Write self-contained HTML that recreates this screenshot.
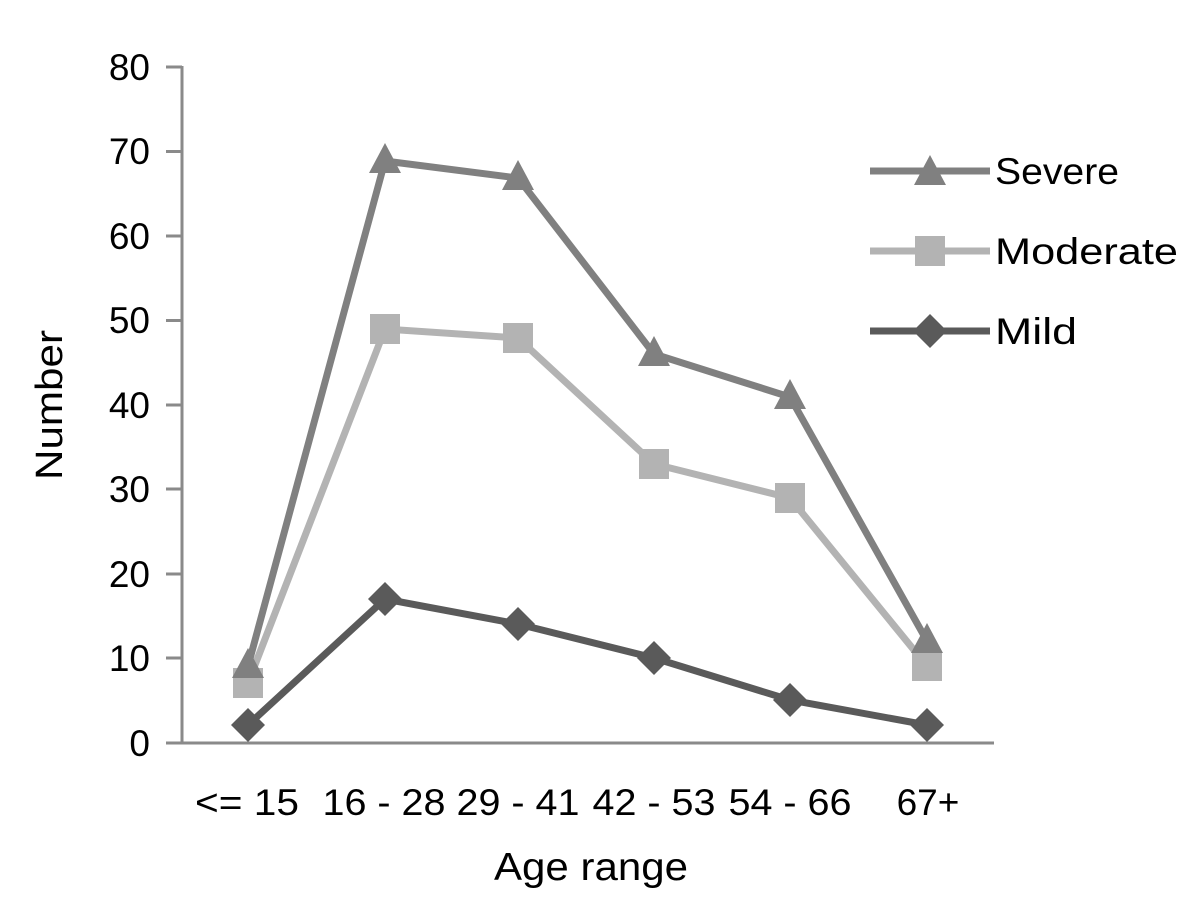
<!DOCTYPE html><html><head><style>body{margin:0;background:#fff}</style></head><body>
<svg width="1200" height="903" xmlns="http://www.w3.org/2000/svg" font-family="Liberation Sans, sans-serif">
<g stroke="#8a8a8a" stroke-width="3">
<line x1="182" y1="66" x2="182" y2="743"/><line x1="166" y1="743" x2="994" y2="743"/>
<line x1="166" y1="67" x2="182" y2="67"/><line x1="166" y1="151.5" x2="182" y2="151.5"/><line x1="166" y1="236" x2="182" y2="236"/><line x1="166" y1="320.5" x2="182" y2="320.5"/><line x1="166" y1="405" x2="182" y2="405"/><line x1="166" y1="489" x2="182" y2="489"/><line x1="166" y1="574" x2="182" y2="574"/><line x1="166" y1="658" x2="182" y2="658"/></g>
<g font-size="37" text-anchor="end" fill="#000">
<text x="150" y="80">80</text><text x="150" y="164">70</text><text x="150" y="249">60</text><text x="150" y="333">50</text><text x="150" y="418">40</text><text x="150" y="502">30</text><text x="150" y="587">20</text><text x="150" y="671">10</text><text x="150" y="756">0</text></g>
<g font-size="37" text-anchor="middle" fill="#000" textLength="0">
<text x="247" y="815" textLength="104" lengthAdjust="spacingAndGlyphs">&lt;= 15</text><text x="384" y="815" textLength="123" lengthAdjust="spacingAndGlyphs">16 - 28</text><text x="518" y="815" textLength="123" lengthAdjust="spacingAndGlyphs">29 - 41</text><text x="654" y="815" textLength="123" lengthAdjust="spacingAndGlyphs">42 - 53</text><text x="790" y="815" textLength="123" lengthAdjust="spacingAndGlyphs">54 - 66</text><text x="928" y="815">67+</text>
<text x="591" y="880" font-size="39" textLength="194" lengthAdjust="spacingAndGlyphs">Age range</text>
<text transform="translate(62,405) rotate(-90)" font-size="38" textLength="150" lengthAdjust="spacingAndGlyphs">Number</text></g>
<polyline fill="none" stroke="#b3b3b3" stroke-width="7" points="248,683 385,329 518,338 654,464 790,498 927,666"/>
<polyline fill="none" stroke="#808080" stroke-width="7" points="248,666 385,161 518,178 654,354 790,397 927,641"/>
<polyline fill="none" stroke="#5a5a5a" stroke-width="7" points="248,725 385,599 518,624 654,658 790,700 927,725"/>
<g fill="#b3b3b3">
<rect x="233" y="668" width="30" height="30"/><rect x="370" y="314" width="30" height="30"/><rect x="503" y="323" width="30" height="30"/><rect x="639" y="449" width="30" height="30"/><rect x="775" y="483" width="30" height="30"/><rect x="912" y="651" width="30" height="30"/><rect x="915" y="236" width="30" height="30"/></g>
<g fill="#808080">
<polygon points="248,648 264,678 232,678"/><polygon points="385,143 401,173 369,173"/><polygon points="518,160 534,190 502,190"/><polygon points="654,336 670,366 638,366"/><polygon points="790,379 806,409 774,409"/><polygon points="927,623 943,653 911,653"/><polygon points="930,155 946,185 914,185"/></g>
<g fill="#5a5a5a">
<polygon points="248,708 265,725 248,742 231,725"/><polygon points="385,582 402,599 385,616 368,599"/><polygon points="518,607 535,624 518,641 501,624"/><polygon points="654,641 671,658 654,675 637,658"/><polygon points="790,683 807,700 790,717 773,700"/><polygon points="927,708 944,725 927,742 910,725"/><polygon points="930,314 947,331 930,348 913,331"/></g>
<line x1="870" y1="171" x2="990" y2="171" stroke="#808080" stroke-width="7"/>
<line x1="870" y1="251" x2="990" y2="251" stroke="#b3b3b3" stroke-width="7"/>
<line x1="870" y1="331" x2="990" y2="331" stroke="#5a5a5a" stroke-width="7"/>
<g font-size="37" fill="#000"><text x="995" y="184" textLength="124" lengthAdjust="spacingAndGlyphs">Severe</text><text x="995" y="264" textLength="183" lengthAdjust="spacingAndGlyphs">Moderate</text><text x="995" y="344" textLength="82" lengthAdjust="spacingAndGlyphs">Mild</text></g>
</svg></body></html>
